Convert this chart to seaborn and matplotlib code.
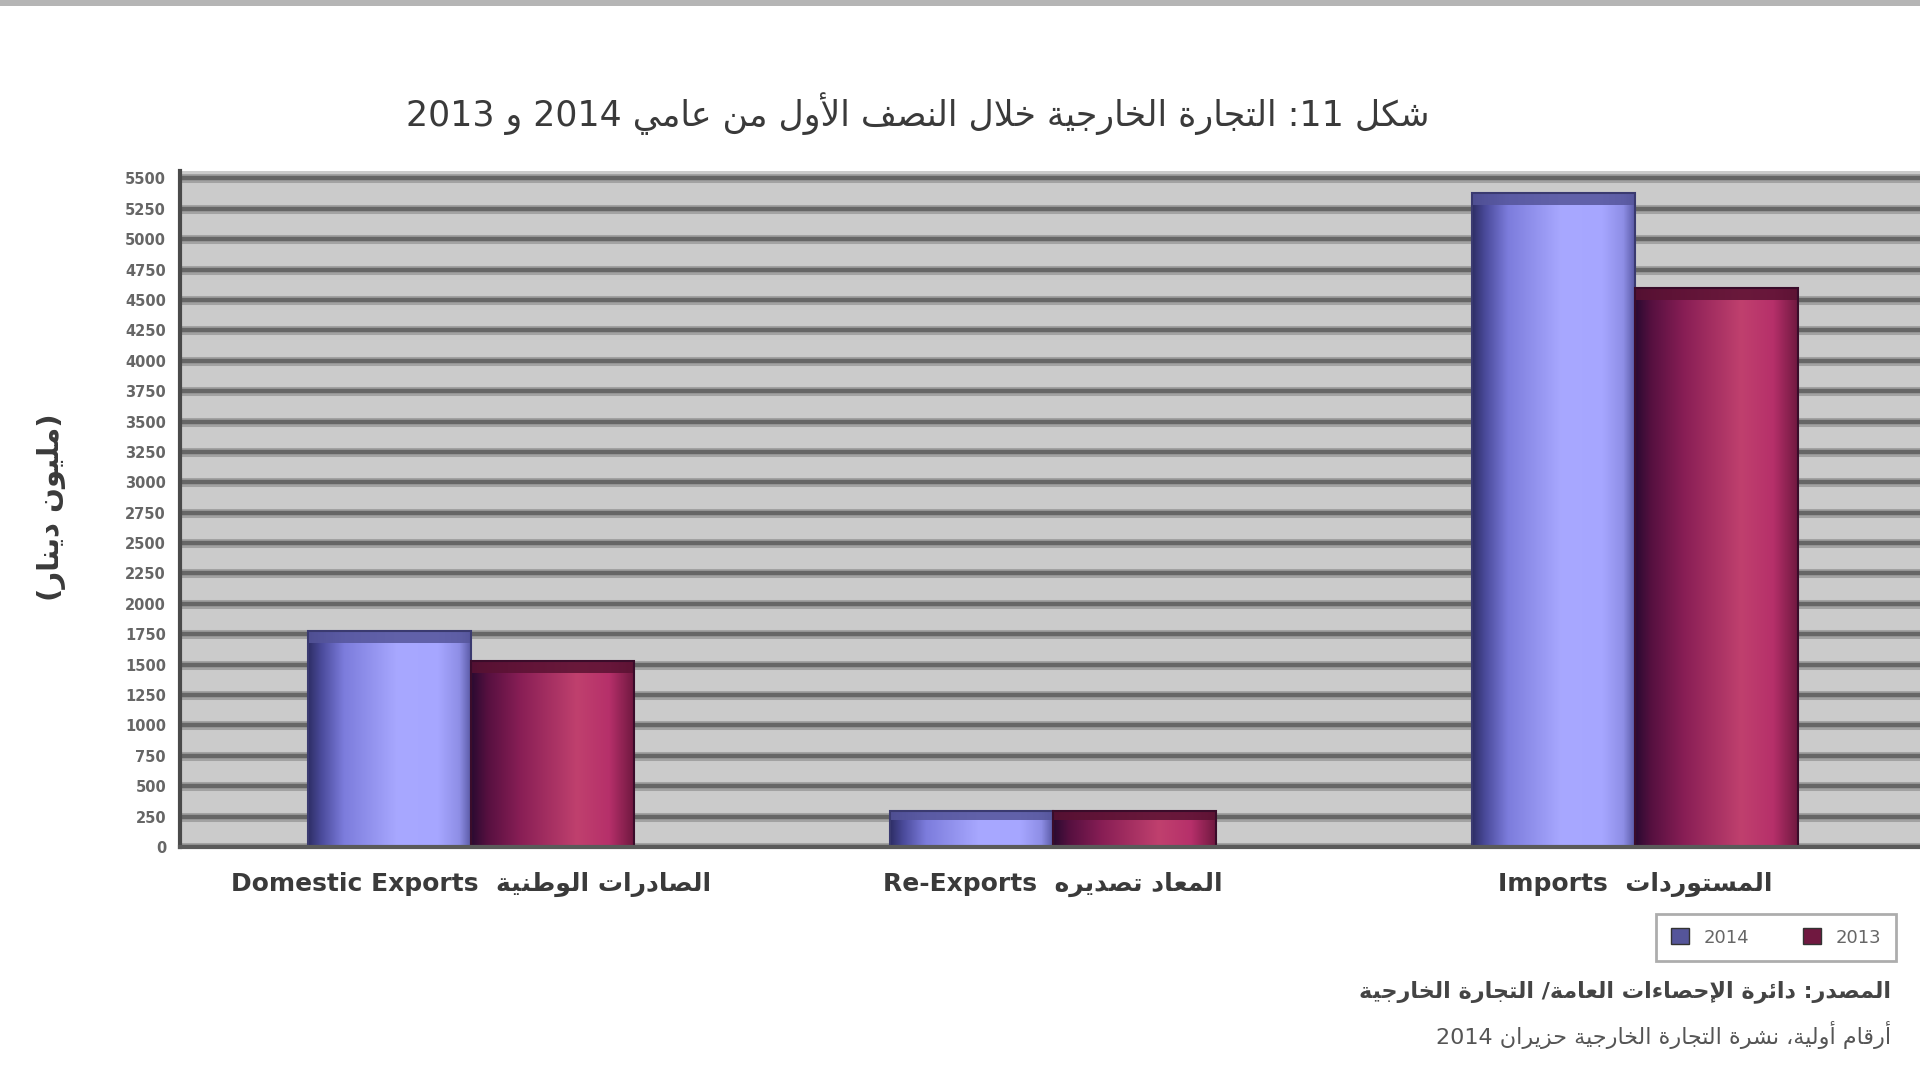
import numpy as np
import pandas as pd
import seaborn as sns
import matplotlib.pyplot as plt
from matplotlib.patches import Patch, Rectangle
from matplotlib.colors import LinearSegmentedColormap, to_rgba

# data (values in million)
categories = ["Domestic Exports", "Re-Exports", "Imports"]
categories_ar = ["الصادرات الوطنية", "المعاد تصديره", "المستوردات"]
years = ["2014", "2013"]
values_2014 = [1780, 300, 5380]
values_2013 = [1530, 300, 4600]
y_ticks = list(range(0, 5501, 250))

title_ar = "شكل 11: التجارة الخارجية خلال النصف الأول من عامي 2014 و 2013"
ylabel_ar = "(مليون دينار)"
source_ar = ["المصدر: دائرة الإحصاءات العامة/ التجارة الخارجية",
             "أرقام أولية، نشرة التجارة الخارجية حزيران 2014"]

# --- minimal arabic shaping, matplotlib has no bidi/joining support ---
FORMS = {
    'ء': (0xFE80, 1), 'آ': (0xFE81, 2), 'أ': (0xFE83, 2), 'ؤ': (0xFE85, 2), 'إ': (0xFE87, 2),
    'ئ': (0xFE89, 4), 'ا': (0xFE8D, 2), 'ب': (0xFE8F, 4), 'ة': (0xFE93, 2), 'ت': (0xFE95, 4),
    'ث': (0xFE99, 4), 'ج': (0xFE9D, 4), 'ح': (0xFEA1, 4), 'خ': (0xFEA5, 4), 'د': (0xFEA9, 2),
    'ذ': (0xFEAB, 2), 'ر': (0xFEAD, 2), 'ز': (0xFEAF, 2), 'س': (0xFEB1, 4), 'ش': (0xFEB5, 4),
    'ص': (0xFEB9, 4), 'ض': (0xFEBD, 4), 'ط': (0xFEC1, 4), 'ظ': (0xFEC5, 4), 'ع': (0xFEC9, 4),
    'غ': (0xFECD, 4), 'ف': (0xFED1, 4), 'ق': (0xFED5, 4), 'ك': (0xFED9, 4), 'ل': (0xFEDD, 4),
    'م': (0xFEE1, 4), 'ن': (0xFEE5, 4), 'ه': (0xFEE9, 4), 'و': (0xFEED, 2), 'ى': (0xFEEF, 2),
    'ي': (0xFEF1, 4),
}
LAM_ALEF = {'آ': 0xFEF5, 'أ': 0xFEF7, 'إ': 0xFEF9, 'ا': 0xFEFB}


def shape_word(w):
    out = []
    i = 0
    while i < len(w):
        c = w[i]
        if c not in FORMS:
            out.append(c)
            i += 1
            continue
        prev_joins = i > 0 and w[i - 1] in FORMS and FORMS[w[i - 1]][1] == 4
        if c == 'ل' and i + 1 < len(w) and w[i + 1] in LAM_ALEF:
            out.append(chr(LAM_ALEF[w[i + 1]] + (1 if prev_joins else 0)))
            i += 2
            continue
        base, k = FORMS[c]
        next_joins = k == 4 and i + 1 < len(w) and w[i + 1] in FORMS
        if k == 1:
            form = 0
        elif k == 2:
            form = 1 if prev_joins else 0
        elif prev_joins:
            form = 3 if next_joins else 1
        else:
            form = 2 if next_joins else 0
        out.append(chr(base + form))
        i += 1
    return ''.join(out)


def ar(text):
    words = []
    for w in text.split(' '):
        if any(ch in FORMS for ch in w):
            s = shape_word(w)[::-1]
            s = s.translate(str.maketrans('()', ')('))
        elif w.endswith(':'):
            s = ':' + w[:-1]
        else:
            s = w
        words.append(s)
    return ' '.join(words[::-1])


df = pd.DataFrame({
    "category": categories * 2,
    "year": [years[0]] * 3 + [years[1]] * 3,
    "value": values_2014 + values_2013,
})

blue, red = "#9090f0", "#b03060"
palette = {years[0]: blue, years[1]: red}

fig = plt.figure(figsize=(19.2, 10.8), dpi=100)
plt.rcParams['font.family'] = ['DejaVu Sans']
ax = fig.add_axes([0.09375, 0.2157, 0.90625, 0.6259])
ax.set_facecolor("#cbcbcb")

sns.barplot(data=df, x="category", y="value", hue="year", order=categories,
            hue_order=years, palette=palette, width=0.56, saturation=1,
            legend=False, ax=ax)

# wall gridlines
for t in y_ticks:
    ax.axhline(t, color="#a2a2a2", lw=6.5, zorder=0.4)
    ax.axhline(t, color="#666666", lw=3.2, zorder=0.5)

cmap_blue = LinearSegmentedColormap.from_list("b", [
    (0, "#2e2e66"), (0.08, "#4a4a9a"), (0.22, "#7c7cdc"), (0.55, "#a8a8ff"),
    (0.8, "#a6a6ff"), (0.93, "#8e8ee6"), (1, "#5c5ca8")])
cmap_red = LinearSegmentedColormap.from_list("r", [
    (0, "#2a0a30"), (0.1, "#561040"), (0.3, "#881e55"), (0.65, "#c0406e"),
    (0.85, "#b6306a"), (1, "#701840")])
grad = np.linspace(0, 1, 256).reshape(1, -1)

for p in list(ax.patches):
    fc = p.get_facecolor()
    is_blue = np.allclose(fc, to_rgba(blue))
    x, w, h = p.get_x(), p.get_width(), p.get_height()
    ax.imshow(grad, extent=[x, x + w, 0, h], aspect="auto", interpolation="bilinear",
              cmap=cmap_blue if is_blue else cmap_red, zorder=2)
    cap = min(100, h * 0.25)
    ax.add_patch(Rectangle((x, h - cap), w, cap, zorder=2.1, lw=0,
                           facecolor="#55559a" if is_blue else "#5a1232", alpha=0.85))
    p.set_facecolor("none")
    p.set_edgecolor("#3a3a70" if is_blue else "#3a0c2a")
    p.set_linewidth(1.5)
    p.set_zorder(2.2)

ax.set_xlim(-0.5, 2.49)
ax.set_ylim(0, 5560)
ax.set_yticks(y_ticks)
ax.set_yticklabels([str(t) for t in y_ticks], fontsize=10.5, color="#666666",
                   fontweight="bold")
ax.set_xticks(range(len(categories)))
ax.set_xticklabels([f"{en}  {ar(a)}" for en, a in zip(categories, categories_ar)],
                   fontsize=18, color="#3a3a3a", fontweight="bold")
ax.tick_params(axis="x", length=0, pad=18)
ax.tick_params(axis="y", length=0, pad=10)
ax.set_xlabel("")
ax.set_ylabel("")
for side in ["top", "right"]:
    ax.spines[side].set_visible(False)
ax.spines["left"].set_color("#4a4a4a")
ax.spines["left"].set_linewidth(3)
ax.spines["bottom"].set_color("#5a5a5a")
ax.spines["bottom"].set_linewidth(3)

fig.text(0.478, 0.895, ar(title_ar), ha="center", va="center", fontsize=25, color="#3a3a3a")
fig.text(0.027, 0.53, ar(ylabel_ar), ha="center", va="center", rotation=90,
         fontsize=21, color="#3a3a3a", fontweight="bold")
fig.text(0.985, 0.082, ar(source_ar[0]), ha="right", va="center", fontsize=16,
         color="#444444", fontweight="bold")
fig.text(0.985, 0.042, ar(source_ar[1]), ha="right", va="center", fontsize=16,
         color="#555555")

handles = [Patch(facecolor="#55559a", edgecolor="#333333"),
           Patch(facecolor="#701840", edgecolor="#333333")]
leg = fig.legend(handles, years, loc="center", bbox_to_anchor=(0.925, 0.132), ncol=2,
                 fontsize=13, frameon=True, fancybox=False, edgecolor="#999999",
                 handlelength=1.0, handleheight=1.0, columnspacing=3.0, borderpad=0.8)
leg.get_frame().set_linewidth(2)
for t in leg.get_texts():
    t.set_color("#666666")

fig.patches.append(Rectangle((0, 0.994), 1, 0.006, transform=fig.transFigure,
                             facecolor="#b5b5b5", lw=0))

fig.savefig("out.png", dpi=100)
